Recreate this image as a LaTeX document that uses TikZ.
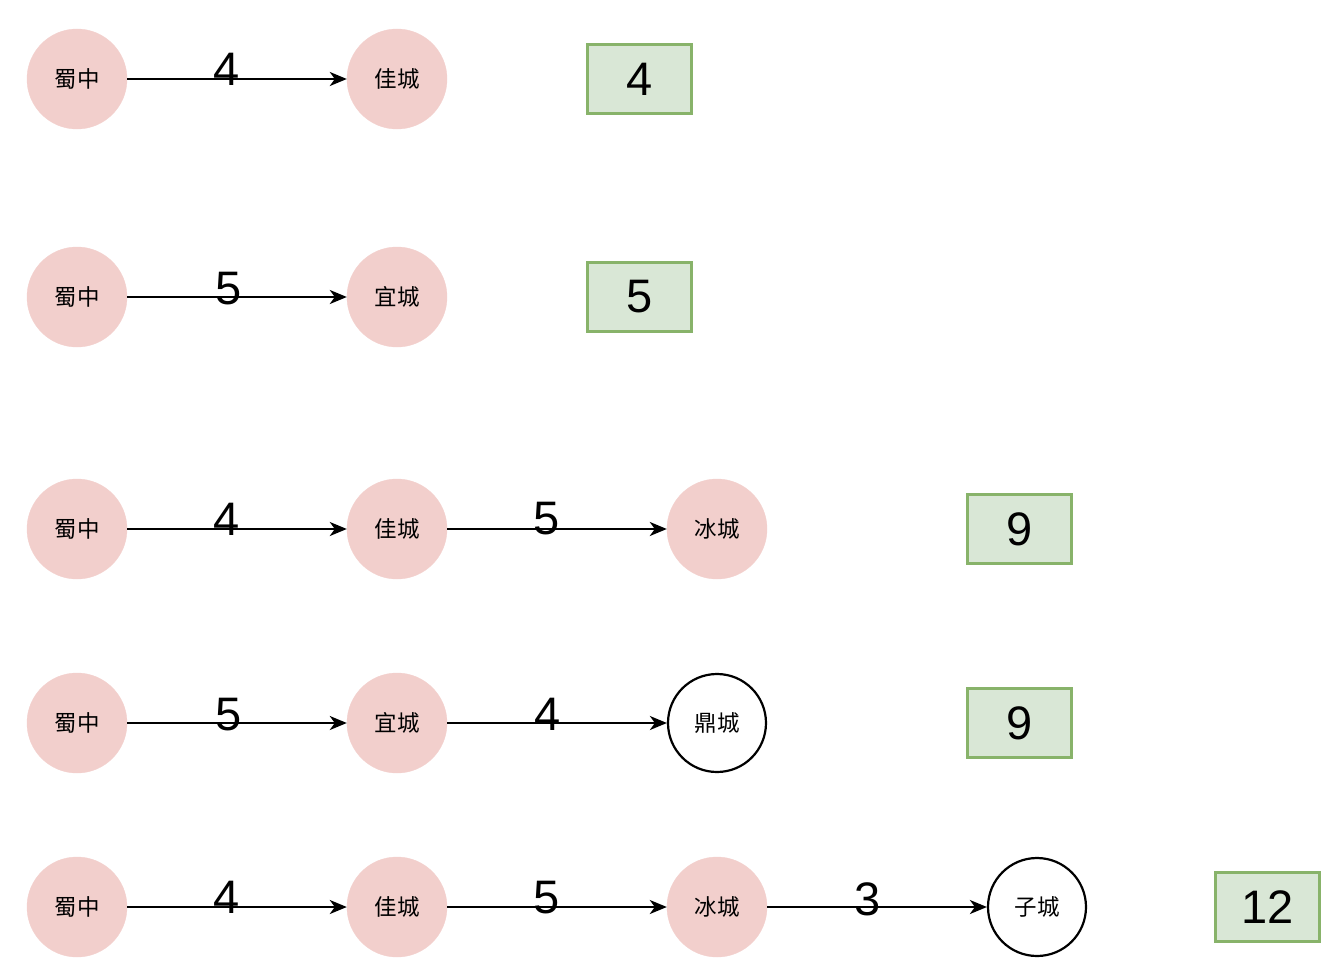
\documentclass[tikz,border=0pt]{standalone}
\usepackage{fontspec}
\setmainfont{Liberation Sans}
\newfontfamily\cjk{Noto Sans CJK SC}
\usetikzlibrary{arrows.meta}
\definecolor{pinkf}{HTML}{F2CFCC}
\definecolor{greenf}{HTML}{D9E7D6}
\definecolor{greend}{HTML}{88B36A}
\tikzset{
  pk/.style={circle,fill=pinkf,draw=pinkf,minimum size=100pt,inner sep=0pt,font=\cjk\fontsize{22.5}{22.5}\selectfont},
  wh/.style={circle,fill=white,draw=black,line width=2.2pt,minimum size=98pt,inner sep=0pt,font=\cjk\fontsize{22.5}{22.5}\selectfont},
  res/.style={rectangle,fill=greenf,draw=greend,line width=2.2pt,minimum width=104pt,minimum height=69pt,inner sep=0pt,font=\fontsize{47}{47}\selectfont},
  ed/.style={-{Stealth[length=17pt,width=14pt,inset=5pt]},line width=2.3pt},
  lb/.style={font=\fontsize{47}{47}\selectfont,inner sep=0pt}
}
\begin{document}
\begin{tikzpicture}[x=1pt,y=-1pt]
\useasboundingbox (0,0) rectangle (1338,974);
% row 1
\node[pk] (a1) at (77,79) {蜀中};
\node[pk] (b1) at (397,79) {佳城};
\node[res] (r1) at (639.5,79) {4};
\draw[ed] (a1) -- (b1);
\node[lb] (l1) at (227,69) {4};
% row 2
\node[pk] (a2) at (77,297) {蜀中};
\node[pk] (b2) at (397,297) {宜城};
\node[res] (r2) at (639.5,297) {5};
\draw[ed] (a2) -- (b2);
\node[lb] (l2) at (229,289) {5};
% row 3
\node[pk] (a3) at (77,529) {蜀中};
\node[pk] (b3) at (397,529) {佳城};
\node[pk] (c3) at (717,529) {冰城};
\node[res] (r3) at (1019.5,529) {9};
\draw[ed] (a3) -- (b3);
\draw[ed] (b3) -- (c3);
\node[lb] (l3a) at (227,519) {4};
\node[lb] (l3b) at (547,519) {5};
% row 4
\node[pk] (a4) at (77,723) {蜀中};
\node[pk] (b4) at (397,723) {宜城};
\node[wh] (c4) at (717,723) {鼎城};
\node[res] (r4) at (1019.5,723) {9};
\draw[ed] (a4) -- (b4);
\draw[ed] (b4) -- (c4);
\node[lb] (l4a) at (229,715) {5};
\node[lb] (l4b) at (548,714) {4};
% row 5
\node[pk] (a5) at (77,907) {蜀中};
\node[pk] (b5) at (397,907) {佳城};
\node[pk] (c5) at (717,907) {冰城};
\node[wh] (d5) at (1037,907) {子城};
\node[res] (r5) at (1267.5,907) {12};
\draw[ed] (a5) -- (b5);
\draw[ed] (b5) -- (c5);
\draw[ed] (c5) -- (d5);
\node[lb] (l5a) at (227,897) {4};
\node[lb] (l5b) at (547,898) {5};
\node[lb] (l5c) at (868,899) {3};
\end{tikzpicture}
\end{document}
